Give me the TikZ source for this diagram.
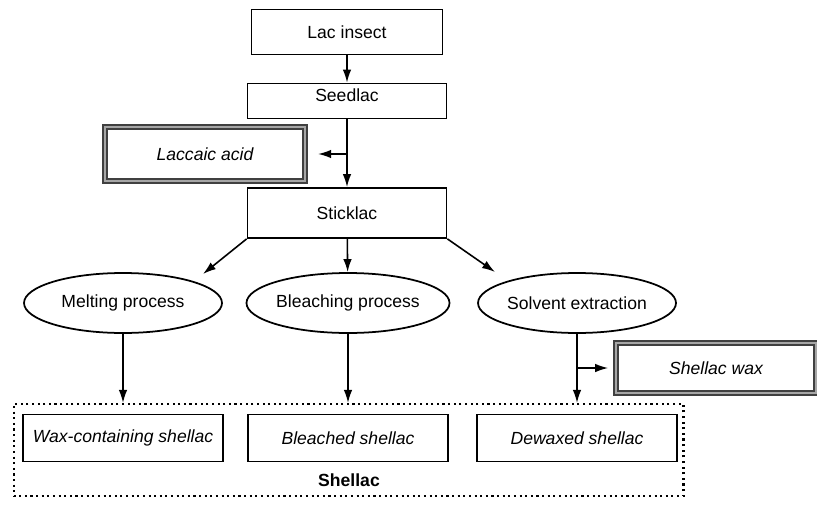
\documentclass[tikz,border=0pt]{standalone}
\usepackage{fontspec}
\setmainfont{Liberation Sans}
\usepackage{tikz}
\usetikzlibrary{calc, arrows.meta, shapes.geometric}

\begin{document}
\begin{tikzpicture}[x=0.02cm, y=-0.02cm,
    box/.style={draw, line width=1pt, minimum width=3.98cm, minimum height=1cm, inner sep=0pt, font=\fontsize{10}{12}\selectfont},
    prodbox/.style={box, font=\fontsize{10}{12}\selectfont\itshape},
    sidebox/.style={prodbox, draw=black!75, double=black!35, double distance=1.2pt, line width=0.9pt},
    proc/.style={draw, ellipse, line width=1pt, minimum width=3.96cm, minimum height=1.2cm, inner sep=0pt, font=\fontsize{10}{12}\selectfont},
    arr/.style={-{Latex[length=2.6mm, width=1.7mm]}, line width=0.9pt}]
            \useasboundingbox (0,0) rectangle (817,517);
            % top chain
            \node[box, minimum width=3.82cm, minimum height=0.9cm] (lac) at (347,32) {Lac insect};
            \node[box, minimum height=0.7cm, text depth=0.22cm] (seed) at (347,101) {Seedlac};
            \node[sidebox, minimum width=4cm, minimum height=1.08cm] (acid) at (205,154) {Laccaic acid};
            \node[box] (stick) at (347,213) {Sticklac};
            \coordinate (br1) at (347,154);
            \draw[arr] (lac) -- (seed);
            \draw[arr] (seed) -- (stick);
            \draw[arr, shorten >=7pt] (br1) -- (acid);
            % processes
            \node[proc] (melt) at (123,303) {Melting process};
            \node[proc] (bleach) at (348,303) {Bleaching process};
            \node[proc] (solv) at (577,303) {Solvent extraction};
            \coordinate (m1) at (203,274);
            \coordinate (s1) at (495,272);
            \draw[arr] (stick.south west) -- (m1);
            \draw[arr] (stick) -- (bleach);
            \draw[arr] (stick.south east) -- (s1);
            % products
            \node[draw, dotted, line width=1.2pt, minimum width=13.4cm, minimum height=1.84cm] (grp) at (348.5,450) {};
            \node[prodbox, minimum width=4cm, minimum height=0.94cm] (wax) at (123,438) {Wax-containing shellac};
            \node[prodbox, minimum width=4cm, minimum height=0.94cm] (bl) at (348,438) {Bleached shellac};
            \node[prodbox, minimum width=4cm, minimum height=0.94cm] (dw) at (577,438) {Dewaxed shellac};
            \node[font=\fontsize{10}{12}\selectfont\bfseries] (shel) at (349,480) {Shellac};
            \node[sidebox, minimum width=4cm] (swax) at (716,368) {Shellac wax};
            \draw[arr] (melt) -- (grp.north -| melt);
            \draw[arr] (bleach) -- (grp.north -| bleach);
            \draw[arr] (solv) -- (grp.north -| solv);
            \coordinate (br2) at (solv.south |- swax.west);
            \draw[arr, shorten >=4pt] (br2) -- (swax);
\end{tikzpicture}
\end{document}
